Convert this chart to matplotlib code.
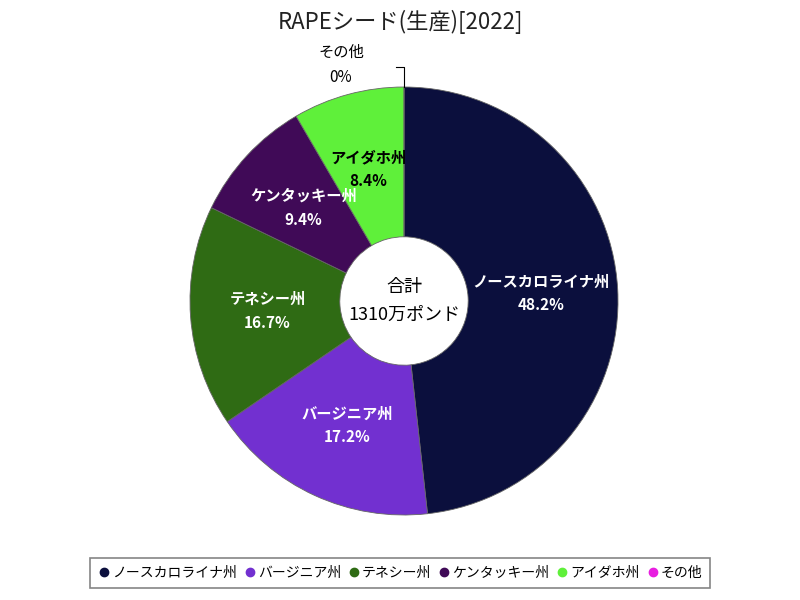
import matplotlib
matplotlib.use("Agg")
import matplotlib.pyplot as plt
from matplotlib.lines import Line2D
import numpy as np

plt.rcParams['font.family'] = ['Noto Sans CJK JP', 'DejaVu Sans']

categories = ["ノースカロライナ州", "バージニア州", "テネシー州", "ケンタッキー州", "アイダホ州", "その他"]
shares = [48.2, 17.2, 16.7, 9.4, 8.4, 0.0]
pct_labels = ["48.2%", "17.2%", "16.7%", "9.4%", "8.4%", "0%"]
colors = ["#0b0f3d", "#7230d0", "#2f6b14", "#400a57", "#5ff03a", "#e81ee0"]
text_colors = ["white", "white", "white", "white", "black", "black"]
title = "RAPEシード(生産)[2022]"
total_label = "合計\n1310万ポンド"

W, H = 800, 600
fig = plt.figure(figsize=(8, 6), dpi=100)
cx, cy, R = 404, 301, 214
ax = fig.add_axes([(cx - R) / W, 1 - (cy + R) / H, 2 * R / W, 2 * R / H])

wedges, _ = ax.pie(shares, colors=colors, startangle=90, counterclock=False,
                   radius=1.0,
                   wedgeprops=dict(width=0.7, edgecolor="#666666", linewidth=0.6))
ax.set_xlim(-1, 1)
ax.set_ylim(-1, 1)
ax.axis('off')

lab_r = 0.64
for i, w in enumerate(wedges):
    if shares[i] <= 0:
        continue
    m = np.radians((w.theta1 + w.theta2) / 2)
    ax.text(lab_r * np.cos(m), lab_r * np.sin(m),
            categories[i] + "\n" + pct_labels[i], ha='center', va='center',
            fontsize=11, color=text_colors[i], fontweight='bold', linespacing=1.6)

# その他 label with leader line
ax.plot([0, 0, -8 / R], [1.0, 1 + 20 / R, 1 + 20 / R], color="black", lw=0.8,
        clip_on=False)
fig.text(341 / W, 1 - 65 / H, "その他\n0%", ha='center', va='center', fontsize=11,
         color='black', linespacing=1.6)

ax.text(0, 0, total_label, ha='center', va='center', fontsize=13,
        color='black', linespacing=1.7,
        bbox=dict(facecolor='white', edgecolor='none', pad=1))

fig.text(400 / W, 1 - 22 / H, title, ha='center', va='center', fontsize=16,
         color='#222222')

handles = [Line2D([0], [0], marker='o', color='none', markerfacecolor=c,
                  markeredgecolor=c, markersize=6) for c in colors]
leg = fig.legend(handles, categories, loc='center', bbox_to_anchor=(0.5, 0.045),
                 ncol=6, frameon=True, fontsize=10, handletextpad=0.1,
                 columnspacing=0.5, handlelength=0.9, borderpad=0.6,
                 fancybox=False, edgecolor='#666666')
leg.get_frame().set_linewidth(1.2)

fig.savefig("out.png", dpi=100)
